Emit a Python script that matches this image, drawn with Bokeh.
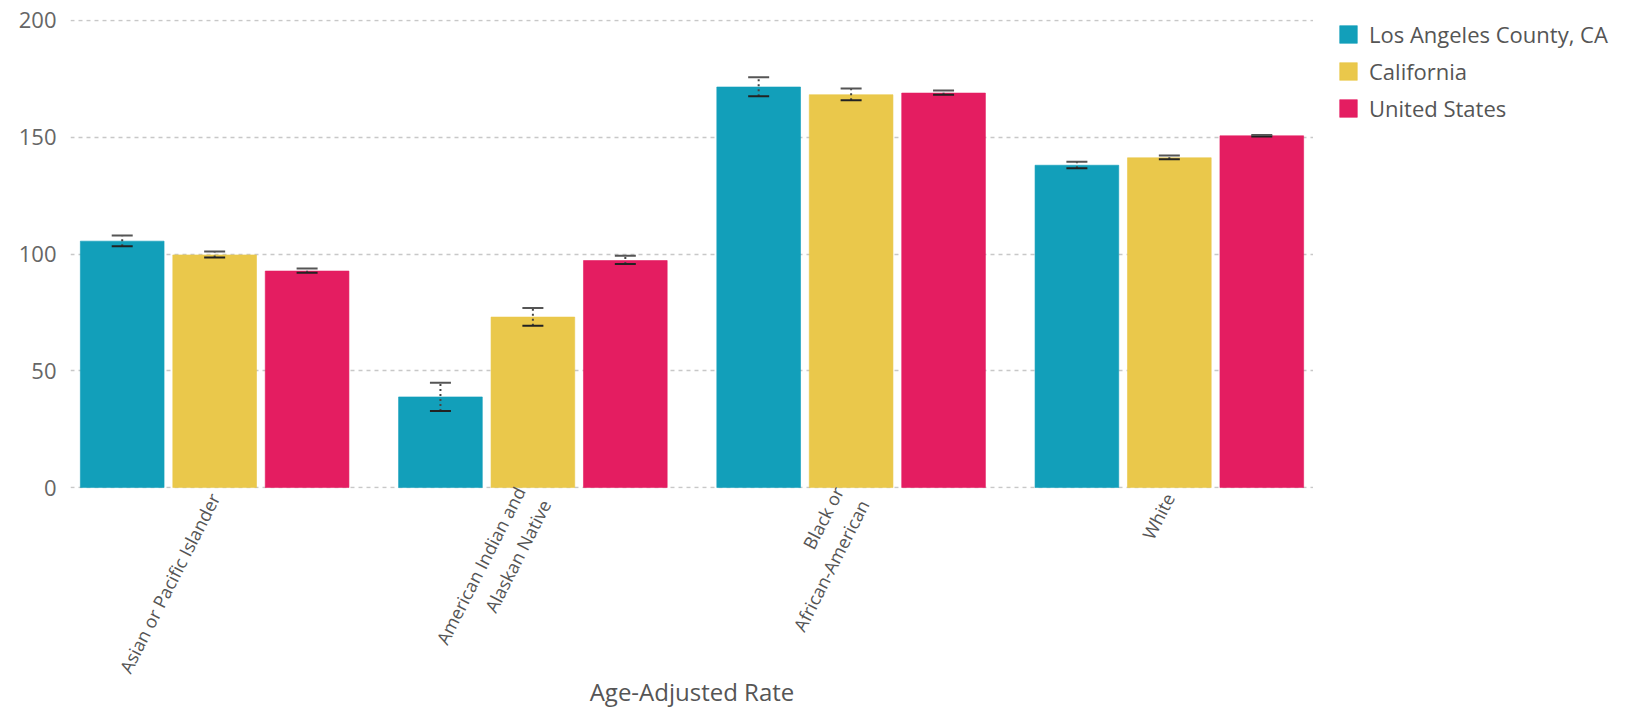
import math
from bokeh.plotting import figure
from bokeh.layouts import row
from bokeh.models import (ColumnDataSource, FactorRange, Range1d, Whisker, TeeHead,
                          Legend, LegendItem, FixedTicker)
from bokeh.transform import dodge
from bokeh.embed import file_html
from bokeh.resources import INLINE

# ---- data ----
categories = ["Asian or Pacific Islander", "American Indian and\nAlaskan Native",
              "Black or\nAfrican-American", "White"]
series = ["Los Angeles County, CA", "California", "United States"]
la = [105.5, 38.8, 171.5, 138.0]
la_lo = [103.3, 32.8, 167.5, 136.7]
la_hi = [107.9, 44.9, 175.7, 139.5]
ca = [99.6, 73.0, 168.2, 141.2]
ca_lo = [98.5, 69.3, 165.8, 140.6]
ca_hi = [101.1, 76.9, 170.9, 142.2]
us = [92.7, 97.2, 168.9, 150.6]
us_lo = [92.0, 95.7, 168.2, 150.3]
us_hi = [93.8, 99.2, 170.0, 151.0]
y_ticks = [0, 50, 100, 150, 200]
x_title = "Age-Adjusted Rate"

colors = ["#129FBA", "#EAC84B", "#E41D61"]
FONT = "Open Sans"

H = 711
src = ColumnDataSource(dict(cat=categories, la=la, la_lo=la_lo, la_hi=la_hi,
                            ca=ca, ca_lo=ca_lo, ca_hi=ca_hi,
                            us=us, us_lo=us_lo, us_hi=us_hi))

p = figure(x_range=FactorRange(*categories, range_padding=-0.047, range_padding_units="absolute"),
           y_range=Range1d(-0.4, 200.4), width=1313, height=H,
           output_backend="svg", toolbar_location=None,
           min_border_left=70, min_border_right=0, min_border_top=19, min_border_bottom=0)
p.outline_line_color = None
p.background_fill_color = "white"

offsets = [-0.2905, 0.0, 0.2905]
keys = ["la", "ca", "us"]
for off, key, col in zip(offsets, keys, colors):
    p.vbar(x=dodge("cat", off, range=p.x_range), top=key, width=0.263, bottom=0,
           source=src, fill_color=col, line_color=col, line_alpha=0.6)
    w = Whisker(base=dodge("cat", off, range=p.x_range), upper=key + "_hi", lower=key + "_lo",
                source=src, line_color="#444444", line_width=2, line_dash="2 3",
                level="overlay",
                upper_head=TeeHead(size=21, line_color="#555555", line_width=2),
                lower_head=TeeHead(size=21, line_color="#222222", line_width=2))
    p.add_layout(w)

# axes
p.yaxis.ticker = FixedTicker(ticks=y_ticks)
p.yaxis.axis_line_color = None
p.yaxis.major_tick_line_color = None
p.yaxis.minor_tick_line_color = None
p.yaxis.major_tick_out = 0
p.yaxis.major_tick_in = 0
p.yaxis.major_label_standoff = 14
p.yaxis.major_label_text_font = FONT
p.yaxis.major_label_text_font_size = "22px"
p.yaxis.major_label_text_color = "#666666"

p.xaxis.axis_line_color = None
p.xaxis.major_tick_line_color = None
p.xaxis.minor_tick_line_color = None
p.xaxis.major_tick_out = 0
p.xaxis.major_tick_in = 0
p.xaxis.major_label_standoff = 6
p.xaxis.major_label_orientation = math.radians(63)
p.xaxis.major_label_text_font = FONT
p.xaxis.major_label_text_font_size = "18px"
p.xaxis.major_label_text_color = "#555555"
p.xaxis.major_label_text_align = "right"
p.xaxis.axis_label = x_title
p.xaxis.axis_label_text_font = FONT
p.xaxis.axis_label_text_font_style = "normal"
p.xaxis.axis_label_text_font_size = "24px"
p.xaxis.axis_label_text_color = "#555555"
p.xaxis.axis_label_standoff = -10

p.xgrid.grid_line_color = None
p.ygrid.grid_line_color = "#c8c8c8"
p.ygrid.grid_line_width = 1.5
p.ygrid.grid_line_dash = "4 4"

# ---- legend panel: zero-size placeholder renderers only carry the key styles ----
lg = figure(width=300, height=H, output_backend="svg", toolbar_location=None,
            min_border_left=24, min_border_right=0, min_border_top=5, min_border_bottom=0,
            x_range=Range1d(0, 1), y_range=Range1d(0, 1))
lg.axis.visible = False
lg.grid.visible = False
lg.outline_line_color = None
items = []
for col, name in zip(colors, series):
    r = lg.vbar(x=[0], top=[0], bottom=[0], width=0, fill_color=col, line_color=col,
                line_alpha=0.6)
    items.append(LegendItem(label=name, renderers=[r]))
legend = Legend(items=items, location="top_left", margin=0, padding=0,
                glyph_width=22, glyph_height=22, label_height=22, spacing=7,
                label_standoff=10, label_text_font=FONT, label_text_font_size="22px",
                label_text_color="#555555", border_line_color=None,
                background_fill_alpha=0)
lg.add_layout(legend)

layout = row(p, lg)
open("out.html", "w").write(file_html(layout, INLINE))
